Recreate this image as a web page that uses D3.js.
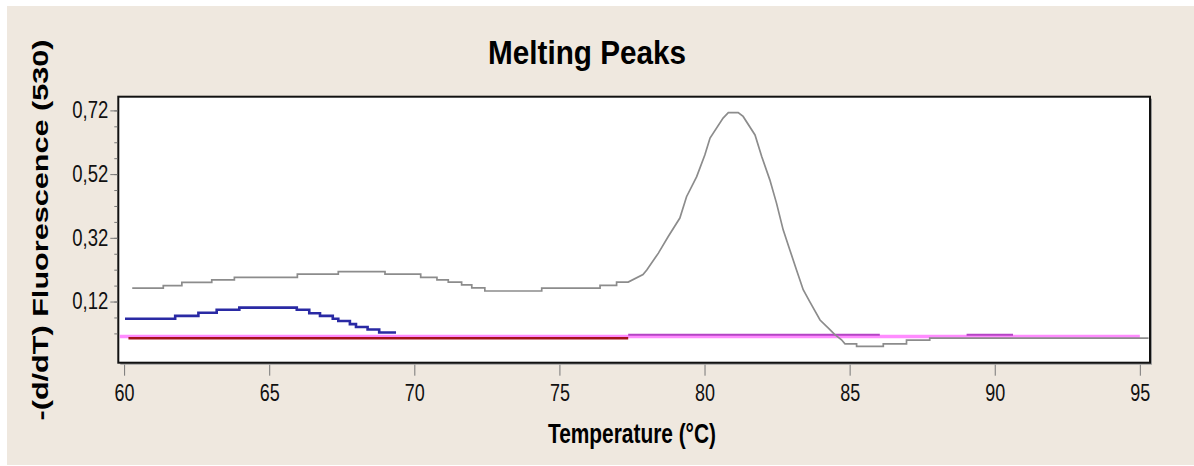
<!DOCTYPE html>
<html>
<head>
<meta charset="utf-8">
<script src="https://cdn.jsdelivr.net/npm/d3@7"></script>
<style>
  html, body { margin: 0; padding: 0; background: #ffffff; }
  svg { display: block; }
  text { font-family: "Liberation Sans Narrow", "Arial Narrow", "Liberation Sans", Arial, sans-serif; }
</style>
</head>
<body>
<svg id="chart" width="1194" height="466"></svg>
<script>
// ---------------- data ----------------
const title = "Melting Peaks";
const xLabel = "Temperature (°C)";
const yLabel = "-(d/dT) Fluorescence (530)";

const xTicks = [60, 65, 70, 75, 80, 85, 90, 95];
const yTicksMajor = [0.12, 0.32, 0.52, 0.72];
const yTicksMinor = [0.02, 0.07, 0.12, 0.17, 0.22, 0.27, 0.32, 0.37, 0.42, 0.47, 0.52, 0.57, 0.62, 0.67, 0.72];

// sample with the melting peak (grey)
const grayT = [60.28, 61.35, 61.35, 61.99, 61.99, 63.02, 63.02, 63.80, 63.80, 65.97, 65.97, 67.38, 67.38, 68.99,
  68.99, 70.22, 70.22, 70.78, 70.78, 71.17, 71.17, 71.63, 71.63, 71.98, 71.98, 72.43, 72.43, 74.39, 74.39, 76.40,
  76.40, 76.97, 76.97, 77.37, 77.88, 78.01, 78.41, 78.75, 79.15, 79.38, 79.73, 80.01, 80.19, 80.64, 80.82, 81.16,
  81.33, 81.74, 81.97, 82.25, 82.48, 82.71, 82.94, 83.17, 83.40, 83.63, 83.98, 84.32, 84.49, 84.72, 84.84, 85.24,
  85.24, 86.16, 86.16, 86.96, 86.96, 87.76, 87.76, 95.30];
const grayV = [0.162, 0.162, 0.170, 0.170, 0.180, 0.180, 0.188, 0.188, 0.196, 0.196, 0.206, 0.206, 0.214, 0.214,
  0.206, 0.206, 0.196, 0.196, 0.188, 0.188, 0.181, 0.181, 0.172, 0.172, 0.163, 0.163, 0.153, 0.153, 0.162, 0.162,
  0.171, 0.171, 0.181, 0.181, 0.205, 0.219, 0.272, 0.324, 0.382, 0.449, 0.512, 0.580, 0.633, 0.696, 0.713, 0.713,
  0.701, 0.643, 0.575, 0.502, 0.429, 0.345, 0.282, 0.219, 0.157, 0.119, 0.062, 0.032, 0.016, 0.000, -0.013, -0.013,
  -0.021, -0.021, -0.013, -0.013, -0.001, -0.001, 0.005, 0.005];

// blue sample (stepwise)
const blueT = [60.03, 61.76, 62.56, 63.19, 63.97, 65.95, 66.38, 66.75, 67.19, 67.38, 67.78, 67.99, 68.39, 68.79, 69.37];
const blueV = [0.066, 0.075, 0.085, 0.094, 0.101, 0.094, 0.083, 0.075, 0.066, 0.059, 0.049, 0.040, 0.032, 0.023, 0.023];

// flat baseline samples
const pinkT = [59.85, 95.0];
const pinkV = [0.0105, 0.0105];
const redT = [60.15, 77.37];
const redV = [0.0045, 0.0045];
const purpleT1 = [77.37, 86.04];
const purpleV1 = [0.0155, 0.0155];
const purpleT2 = [89.03, 90.63];
const purpleV2 = [0.0155, 0.0155];

// ---------------- layout ----------------
const W = 1194, H = 466;
const plot = { left: 118.3, top: 96.7, right: 1150, bottom: 362.7 };

const svg = d3.select("#chart");

// page background (beige panel with thin white margin)
svg.append("rect").attr("x", 0).attr("y", 0).attr("width", W).attr("height", H).attr("fill", "#ffffff");
svg.append("rect").attr("x", 7).attr("y", 6).attr("width", W - 7).attr("height", H - 7).attr("fill", "#efe8df");

const x = d3.scaleLinear().domain([59.8, 95.35]).range([plot.left, plot.right]);
const y = d3.scaleLinear().domain([-0.072, 0.763]).range([plot.bottom, plot.top]);

// plot shadow + area
svg.append("rect")
  .attr("x", plot.left + 2).attr("y", plot.top + 2)
  .attr("width", plot.right - plot.left).attr("height", plot.bottom - plot.top)
  .attr("fill", "#9a9a9a");
svg.append("rect")
  .attr("x", plot.left).attr("y", plot.top)
  .attr("width", plot.right - plot.left).attr("height", plot.bottom - plot.top)
  .attr("fill", "#ffffff");

// clip
svg.append("clipPath").attr("id", "clip").append("rect")
  .attr("x", plot.left + 1).attr("y", plot.top + 1)
  .attr("width", plot.right - plot.left - 2).attr("height", plot.bottom - plot.top - 2);

const g = svg.append("g").attr("clip-path", "url(#clip)");

function pts(T, V) { return T.map((t, i) => [t, V[i]]); }
const lineLin = d3.line().x(d => x(d[0])).y(d => y(d[1])).curve(d3.curveLinear);
const lineStep = d3.line().x(d => x(d[0])).y(d => y(d[1])).curve(d3.curveStepAfter);

g.append("path").attr("d", lineLin(pts(pinkT, pinkV)))
  .attr("fill", "none").attr("stroke", "#ff8cff").attr("stroke-width", 3.5);
g.append("path").attr("d", lineLin(pts(redT, redV)))
  .attr("fill", "none").attr("stroke", "#a3131c").attr("stroke-width", 2.5);
g.append("path").attr("d", lineLin(pts(purpleT1, purpleV1)))
  .attr("fill", "none").attr("stroke", "#b444c4").attr("stroke-width", 2);
g.append("path").attr("d", lineLin(pts(purpleT2, purpleV2)))
  .attr("fill", "none").attr("stroke", "#b444c4").attr("stroke-width", 2);
g.append("path").attr("d", lineStep(pts(blueT, blueV)))
  .attr("fill", "none").attr("stroke", "#2a2aa4").attr("stroke-width", 2.6);
g.append("path").attr("d", lineLin(pts(grayT, grayV)))
  .attr("fill", "none").attr("stroke", "#8c8c8c").attr("stroke-width", 1.7);

// frame
svg.append("rect")
  .attr("x", plot.left).attr("y", plot.top)
  .attr("width", plot.right - plot.left).attr("height", plot.bottom - plot.top)
  .attr("fill", "none").attr("stroke", "#111111").attr("stroke-width", 2);

// y axis
const fmt = d => d.toFixed(2).replace(".", ",");
const yMinor = svg.append("g").attr("transform", `translate(${plot.left - 1},0)`)
  .call(d3.axisLeft(y).tickValues(yTicksMinor).tickSize(3).tickFormat(""));
yMinor.select(".domain").remove();
yMinor.selectAll("line").attr("stroke", "#777777");

const yAxis = svg.append("g").attr("transform", `translate(${plot.left - 1},0)`)
  .call(d3.axisLeft(y).tickValues(yTicksMajor).tickSize(7).tickPadding(2).tickFormat(fmt));
yAxis.select(".domain").remove();
yAxis.selectAll("line").attr("stroke", "#777777");
yAxis.selectAll("text")
  .attr("fill", "#111").style("font-size", "23px")
  .attr("textLength", 36).attr("lengthAdjust", "spacingAndGlyphs");

// x axis
const xAxis = svg.append("g").attr("transform", `translate(0,${plot.bottom + 2})`)
  .call(d3.axisBottom(x).tickValues(xTicks).tickSize(11).tickPadding(9).tickFormat(d3.format("d")));
xAxis.select(".domain").remove();
xAxis.selectAll("line").attr("stroke", "#777777");
xAxis.selectAll("text")
  .attr("fill", "#111").style("font-size", "23px")
  .attr("textLength", 20).attr("lengthAdjust", "spacingAndGlyphs");

// title
svg.append("text")
  .attr("x", 587).attr("y", 64)
  .attr("text-anchor", "middle")
  .style("font-size", "33px").style("font-weight", "bold")
  .attr("textLength", 198).attr("lengthAdjust", "spacingAndGlyphs")
  .attr("fill", "#000")
  .text(title);

// x label
svg.append("text")
  .attr("x", 632).attr("y", 443)
  .attr("text-anchor", "middle")
  .style("font-size", "27px").style("font-weight", "bold")
  .attr("textLength", 168).attr("lengthAdjust", "spacingAndGlyphs")
  .attr("fill", "#000")
  .text(xLabel);

// y label
svg.append("text")
  .attr("transform", "translate(48,230) rotate(-90)")
  .attr("text-anchor", "middle")
  .style("font-size", "22px").style("font-weight", "bold")
  .attr("textLength", 381).attr("lengthAdjust", "spacingAndGlyphs")
  .attr("fill", "#000")
  .text(yLabel);
</script>
</body>
</html>
